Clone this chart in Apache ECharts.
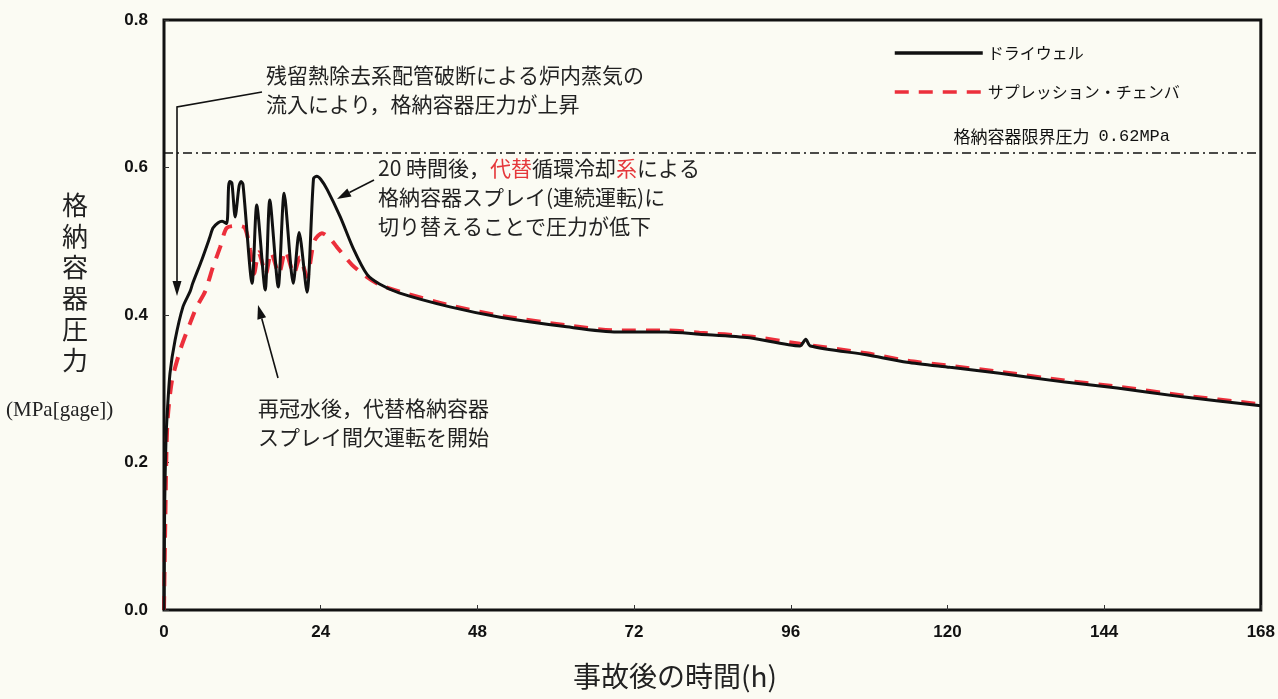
<!DOCTYPE html>
<html>
<head>
<meta charset="utf-8">
<script src="https://cdn.jsdelivr.net/npm/echarts@6/dist/echarts.min.js"></script>
<style>
html,body{margin:0;padding:0;background:#fbfbf3;}
#chart{width:1278px;height:699px;}
</style>
</head>
<body>
<div id="chart"></div>
<script>
// ---- data ----
const xTicks = [0, 24, 48, 72, 96, 120, 144, 168];
const yTicks = [0.0, 0.2, 0.4, 0.6, 0.8];
const seriesNames = ['ドライウェル', 'サプレッション・チェンバ'];
const limitPressure = 0.62;
const limitLabelJp = '格納容器限界圧力';
const limitLabelNum = '0.62MPa';

// Drywell pressure [time (h), MPa gage]
const drywell = [
  [0,0],[0.1,0.14],[0.3,0.23],[0.5,0.267],[0.92,0.321],[1.7,0.366],[2.9,0.411],[4.0,0.432],
  [4.4,0.443],[5.8,0.475],[7.0,0.505],[7.5,0.518],[8.3,0.525],[8.9,0.527],[9.6,0.524],
  [9.9,0.575],[10.1,0.581],[10.4,0.579],[10.9,0.533],[11.5,0.575],[11.8,0.581],[12.1,0.577],
  [13.5,0.443],[14.2,0.549],[15.5,0.434],[16.2,0.556],[17.5,0.438],[18.4,0.565],[19.8,0.443],
  [20.7,0.512],[21.9,0.431],[22.9,0.585],[23.4,0.588],[24.0,0.584],[25.0,0.570],[27.0,0.533],
  [29.0,0.49],[31.1,0.455],[33,0.442],[36,0.43],[43.8,0.411],[51.5,0.397],[61.7,0.384],
  [69.4,0.377],[77,0.377],[82,0.374],[89.7,0.369],[97.4,0.358],[98.3,0.367],[99,0.358],
  [107.6,0.346],[113.8,0.336],[120.4,0.329],[128,0.321],[138,0.309],[146,0.301],[156,0.289],[168,0.277]
];
// Suppression chamber pressure [time (h), MPa gage]
const suppression = [
  [0,0],[0.2,0.12],[0.5,0.25],[1.2,0.31],[2.5,0.353],[4,0.389],[5,0.411],[6.3,0.432],
  [7.5,0.465],[8.6,0.492],[9.6,0.518],[11.3,0.521],[12.4,0.518],[13.2,0.488],[13.8,0.456],
  [14.5,0.485],[15.6,0.456],[16.4,0.485],[17.6,0.456],[18.6,0.487],[19.9,0.456],[20.8,0.478],
  [21.9,0.452],[23.0,0.500],[24.2,0.511],[25.5,0.503],[26.5,0.492],[28.8,0.468],[31,0.452],
  [33,0.441],[36,0.432],[43.8,0.413],[51.5,0.399],[61.7,0.386],[69.4,0.379],[77,0.379],
  [82,0.376],[89.7,0.371],[97.4,0.361],[107.6,0.348],[113.8,0.338],[120.4,0.331],[128,0.323],
  [138,0.311],[146,0.303],[156,0.291],[168,0.279]
];

// ---- chart ----
const jp = '"Noto Sans CJK JP", "Noto Sans CJK SC", sans-serif';
const num = '"Liberation Sans Narrow", "Liberation Sans", Arial, sans-serif';
const chart = echarts.init(document.getElementById('chart'));

function arrow(pts, tip, base1, base2) {
  return [
    { type: 'polyline', shape: { points: pts }, style: { stroke: '#111', lineWidth: 1.6, fill: null }, z: 10 },
    { type: 'polygon', shape: { points: [tip, base1, base2] }, style: { fill: '#111' }, z: 10 }
  ];
}

const option = {
  backgroundColor: '#fbfbf3',
  animation: false,
  grid: { left: 164, top: 20, right: 17, bottom: 89, show: true, borderColor: '#111', borderWidth: 3, backgroundColor: 'transparent' },
  xAxis: {
    type: 'value', min: 0, max: 168, interval: 24,
    axisLine: { show: false },
    axisTick: { show: true, inside: true, length: 5, lineStyle: { color: '#333', width: 1 } },
    splitLine: { show: false },
    axisLabel: { margin: 14, color: '#111', fontFamily: num, fontWeight: 'bold', fontSize: 17 }
  },
  yAxis: {
    type: 'value', min: 0, max: 0.8, interval: 0.2,
    axisLine: { show: false },
    axisTick: { show: true, inside: true, length: 5, lineStyle: { color: '#333', width: 1 } },
    splitLine: { show: false },
    axisLabel: { margin: 16, color: '#111', fontFamily: num, fontWeight: 'bold', fontSize: 17,
      formatter: v => v.toFixed(1) }
  },
  legend: {
    left: 888, top: 40, orient: 'vertical', itemWidth: 88, itemHeight: 14, itemGap: 23,
    itemStyle: { opacity: 0 },
    lineStyle: { width: 3.5 },
    textStyle: { fontFamily: jp, fontSize: 16, color: '#111' },
    data: seriesNames
  },
  series: [
    {
      name: seriesNames[0], type: 'line', data: drywell, showSymbol: false, symbol: 'none', smooth: 0.25,
      lineStyle: { color: '#111', width: 3 }, itemStyle: { color: '#111' }, z: 3,
      markLine: {
        silent: true, symbol: 'none',
        lineStyle: { color: '#111', width: 1.6, type: [9, 4, 2, 4] },
        label: { show: false },
        data: [{ yAxis: limitPressure }]
      }
    },
    {
      name: seriesNames[1], type: 'line', data: suppression, showSymbol: false, symbol: 'none', smooth: 0.25,
      lineStyle: { color: '#ec2f3b', width: 4, type: [14, 10] }, itemStyle: { color: '#ec2f3b' }, z: 2
    }
  ],
  graphic: [
    // limit label
    { type: 'text', right: 1278 - 1170, top: 128, style: {
        rich: {
          a: { font: '17px ' + jp, fill: '#111', padding: [0, 9, 0, 0] },
          b: { font: '17px "Liberation Mono", "DejaVu Sans Mono", monospace', fill: '#111' }
        },
        text: '{a|' + limitLabelJp + '}{b|' + limitLabelNum + '}' } },
    // y-axis title
    { type: 'text', left: 62, top: 190, style: { text: '格\n納\n容\n器\n圧\n力', font: '26px ' + jp, lineHeight: 31, fill: '#222' } },
    { type: 'text', left: 6, top: 400, style: { text: '(MPa[gage])', font: '21px "Liberation Serif", serif', fill: '#222' } },
    // x-axis title
    { type: 'text', left: 573, top: 662, style: { text: '事故後の時間(h)', font: '28px ' + jp, fill: '#222' } },
    // annotation 1
    { type: 'text', left: 266, top: 61, style: { text: '残留熱除去系配管破断による炉内蒸気の\n流入により，格納容器圧力が上昇', font: '21px ' + jp, lineHeight: 29, fill: '#222' } },
    ...arrow([[262, 92], [177, 107], [177, 282]], [177, 296], [172.5, 281], [181.5, 281]),
    // annotation 2
    { type: 'text', left: 378, top: 158, style: {
        rich: {
          n: { font: '21px ' + jp, fill: '#222', lineHeight: 29 },
          r: { font: '21px ' + jp, fill: '#e5383b', lineHeight: 29 }
        },
        text: '{n|20 時間後，}{r|代替}{n|循環冷却}{r|系}{n|による}\n{n|格納容器スプレイ(連続運転)に}\n{n|切り替えることで圧力が低下}'
      } },
    ...arrow([[374, 180], [349.4, 192.5]], [337, 199], [351.5, 196.5], [347.3, 188.5]),
    // annotation 3
    { type: 'text', left: 258, top: 394, style: { text: '再冠水後，代替格納容器\nスプレイ間欠運転を開始', font: '21px ' + jp, lineHeight: 29, fill: '#222' } },
    ...arrow([[278, 378], [261.75, 318.5]], [258, 305], [266.1, 317.3], [257.4, 319.7])
  ]
};
chart.setOption(option);
</script>
</body>
</html>
